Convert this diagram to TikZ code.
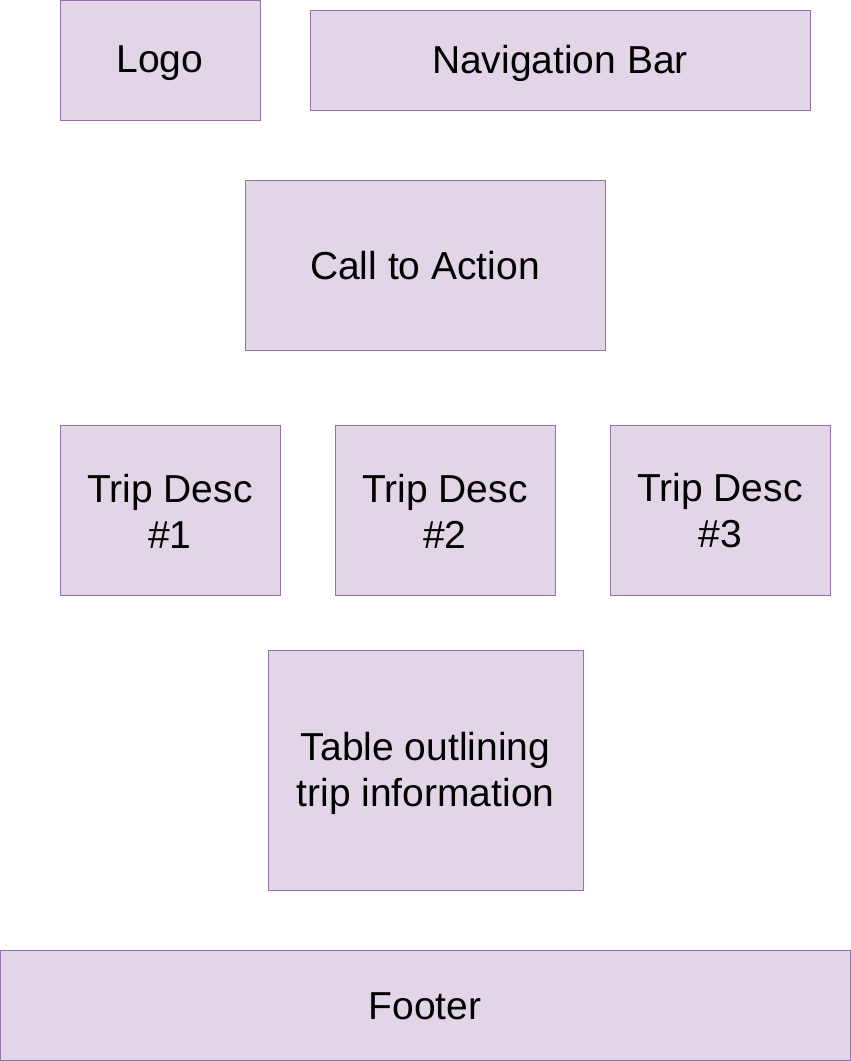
\documentclass[tikz,border=0pt]{standalone}
\usepackage{fontspec}
\setmainfont{Liberation Sans}
\definecolor{boxfill}{HTML}{E1D5E7}
\definecolor{boxline}{HTML}{9673A6}
\begin{document}
\begin{tikzpicture}[x=1pt,y=-1pt,
  blk/.style={draw=boxline,fill=boxfill,line width=0.8pt},
  lbl/.style={align=center,font=\fontsize{39}{46}\selectfont,inner sep=0pt}]
\useasboundingbox (0,0) rectangle (851,1061);
\draw[blk] (60,0.5) rectangle (260,120);
\node[lbl] (logo) at (160,63) {Logo};
\draw[blk] (310,10) rectangle (810,110);
\node[lbl] (nav) at (560,63) {Navigation Bar};
\draw[blk] (245,180) rectangle (605,350);
\node[lbl] (cta) at (425,266) {Call to Action};
\draw[blk] (60,425) rectangle (280,595);
\node[lbl] (t1) at (170,511) {Trip Desc\\\#1};
\draw[blk] (335,425) rectangle (555,595);
\node[lbl] (t2) at (445,511) {Trip Desc\\\#2};
\draw[blk] (610,425) rectangle (830,595);
\node[lbl] (t3) at (720,511) {Trip Desc\\\#3};
\draw[blk] (268,650) rectangle (583,890);
\node[lbl] (tab) at (425.5,773) {Table outlining\\trip information};
\draw[blk] (0.5,950) rectangle (850,1060);
\node[lbl] (foot) at (425,1006) {Footer};
\end{tikzpicture}
\end{document}
